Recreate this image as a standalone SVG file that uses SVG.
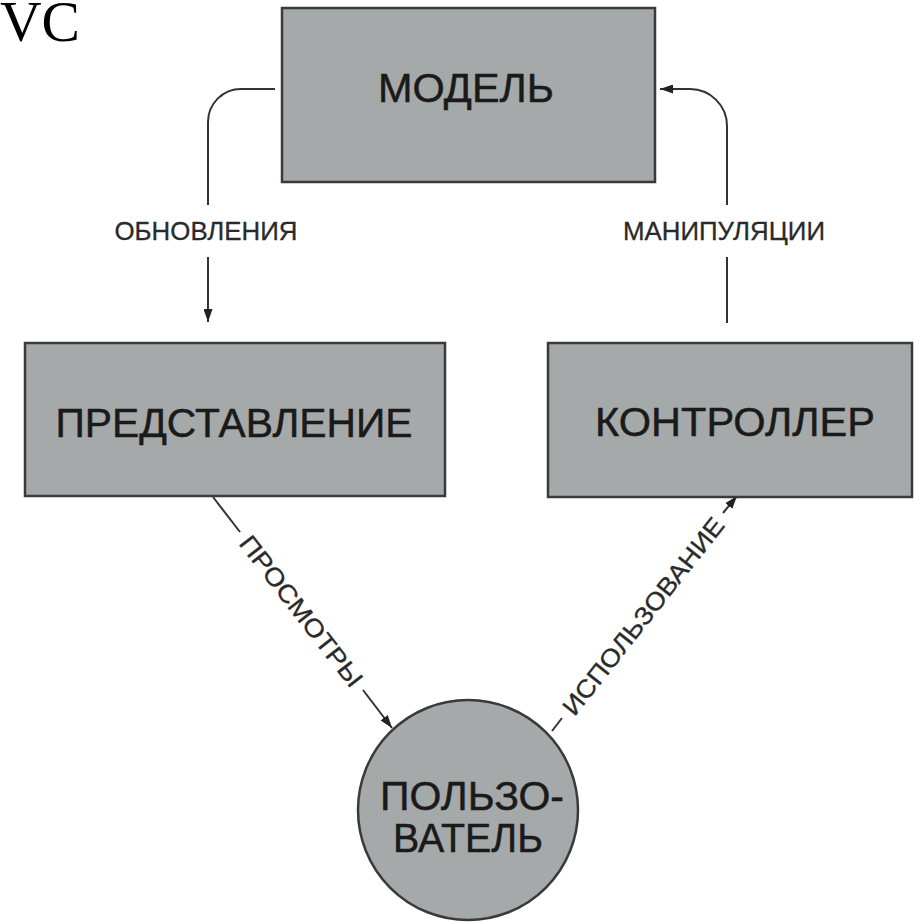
<svg xmlns="http://www.w3.org/2000/svg" width="919" height="923" viewBox="0 0 919 923">
  <defs>
    <style>
      .box { fill: #a6a9a9; stroke: #3a3a3a; stroke-width: 2.5; }
      .title { font-family: "Liberation Sans", Arial, sans-serif; font-size: 41px; fill: #1a1a1a; stroke: #1a1a1a; stroke-width: 0.5; text-anchor: middle; }
      .lbl { font-family: "Liberation Sans", Arial, sans-serif; font-size: 25px; fill: #2a2a2a; stroke: #2a2a2a; stroke-width: 0.3; text-anchor: middle; }
      .conn { fill: none; stroke: #333333; stroke-width: 2; }
    </style>
    <marker id="arrow" markerUnits="userSpaceOnUse" markerWidth="13" markerHeight="9" viewBox="0 0 13 9" refX="13" refY="4.5" orient="auto">
      <path d="M0,0 L13,4.5 L0,9 z" fill="#222222"/>
    </marker>
  </defs>
  <rect width="919" height="923" fill="#ffffff"/>

  <text x="0" y="41" font-family="Liberation Serif, 'Times New Roman', serif" font-size="58" fill="#000000" textLength="80" lengthAdjust="spacingAndGlyphs">VC</text>

  <g id="connectors">
    <!-- model -> view (updates) -->
    <path class="conn" d="M275,89 L241,89 A33,33 0 0 0 208,122 L208,205"/>
    <path class="conn" d="M208,257 L208,322" marker-end="url(#arrow)"/>
    <text class="lbl" x="206" y="240" textLength="183" lengthAdjust="spacingAndGlyphs">ОБНОВЛЕНИЯ</text>
    <!-- controller -> model (manipulations) -->
    <path class="conn" d="M727,323 L727,257"/>
    <path class="conn" d="M727,205 L727,126 A37,37 0 0 0 690,89 L660,89" marker-end="url(#arrow)"/>
    <text class="lbl" x="724" y="240" textLength="202" lengthAdjust="spacingAndGlyphs">МАНИПУЛЯЦИИ</text>
    <!-- view -> user (views) -->
    <path class="conn" d="M213,497 L240,532"/>
    <path class="conn" d="M363,690 L392,728" marker-end="url(#arrow)"/>
    <text class="lbl" transform="translate(301.5,611) rotate(52.2)" x="0" y="9" font-size="26" textLength="184" lengthAdjust="spacingAndGlyphs">ПРОСМОТРЫ</text>
    <!-- user -> controller (usage) -->
    <path class="conn" d="M552,731 L562,718"/>
    <path class="conn" d="M723,513 L737,496" marker-end="url(#arrow)"/>
    <text class="lbl" transform="translate(643,616) rotate(-51.7)" x="0" y="9" font-size="26" textLength="244" lengthAdjust="spacingAndGlyphs">ИСПОЛЬЗОВАНИЕ</text>
  </g>

  <g id="node-model">
    <rect class="box" x="282" y="8" width="373" height="174"/>
    <text class="title" x="466" y="102" textLength="176" lengthAdjust="spacingAndGlyphs">МОДЕЛЬ</text>
  </g>

  <g id="node-view">
    <rect class="box" x="25" y="343" width="420" height="153"/>
    <text class="title" x="234" y="437" textLength="357" lengthAdjust="spacingAndGlyphs">ПРЕДСТАВЛЕНИЕ</text>
  </g>

  <g id="node-controller">
    <rect class="box" x="548" y="343" width="364" height="154"/>
    <text class="title" x="735" y="436" textLength="280" lengthAdjust="spacingAndGlyphs">КОНТРОЛЛЕР</text>
  </g>

  <g id="node-user">
    <circle class="box" cx="468" cy="810" r="110"/>
    <text class="title" font-size="34"><tspan x="472" y="810" textLength="184" lengthAdjust="spacingAndGlyphs">ПОЛЬЗО-</tspan><tspan x="468" y="852" textLength="150" lengthAdjust="spacingAndGlyphs">ВАТЕЛЬ</tspan></text>
  </g>
</svg>
